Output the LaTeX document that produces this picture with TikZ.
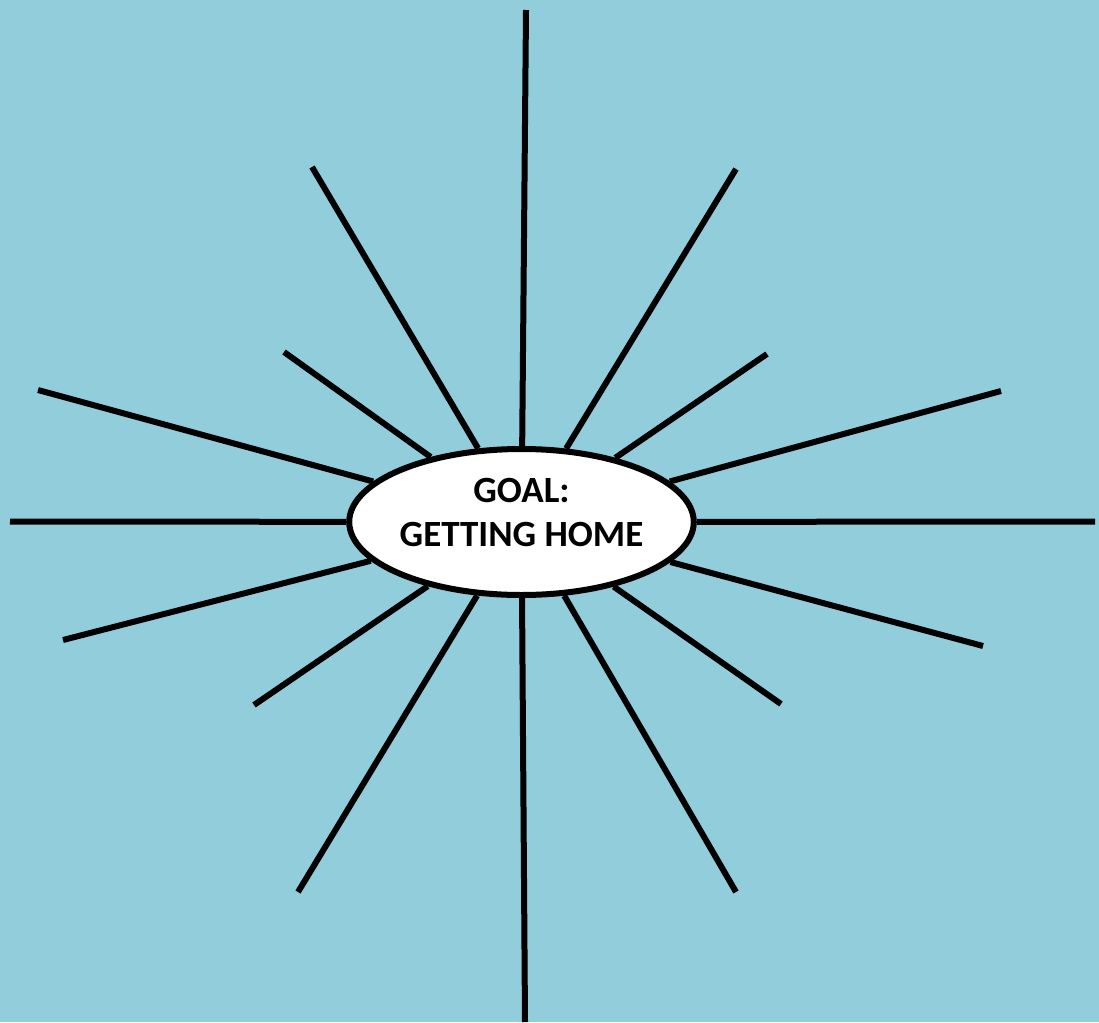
\documentclass[tikz,border=0pt]{standalone}
\usepackage{fontspec}
\setmainfont{Carlito}
\usetikzlibrary{shapes.geometric}
\definecolor{bgblue}{HTML}{92CDDC}
\tikzset{
  ray/.style={draw=black, line width=6pt},
  goalnode/.style={ellipse, draw=black, fill=white, line width=6pt, minimum width=339pt, minimum height=146pt, inner sep=0pt, align=center, font=\fontsize{37}{45}\selectfont\bfseries}
}
\begin{document}
\begin{tikzpicture}[x=1pt,y=-1pt]
\fill[bgblue] (0,0) rectangle (1099,1022);
\useasboundingbox (0,0) rectangle (1099,1022);
\node[goalnode] (goal) at (521.5,522) {\raisebox{0.5pt}[0pt][0pt]{\begin{tabular}{@{}c@{}}GOAL:\\[-1pt]GETTING HOME\end{tabular}}};
\coordinate (t) at (526,10);
\coordinate (b) at (525,1022);
\coordinate (l) at (10,521.5);
\coordinate (r) at (1095,521.5);
\coordinate (ul1) at (312,167);
\coordinate (ur1) at (736,169);
\coordinate (ul2) at (284,352);
\coordinate (ur2) at (767,354);
\coordinate (ul3) at (38,390);
\coordinate (ur3) at (1001,391);
\coordinate (ll3) at (63,640);
\coordinate (lr3) at (983,646);
\coordinate (ll2) at (254,705);
\coordinate (lr2) at (781,704);
\coordinate (ll1) at (298,892);
\coordinate (lr1) at (736,892);
\foreach \c in {t,b,l,r,ul1,ur1,ul2,ur2,ul3,ur3,ll3,lr3,ll2,lr2,ll1,lr1}
  \draw[ray] (\c) -- (goal);
\end{tikzpicture}
\end{document}
